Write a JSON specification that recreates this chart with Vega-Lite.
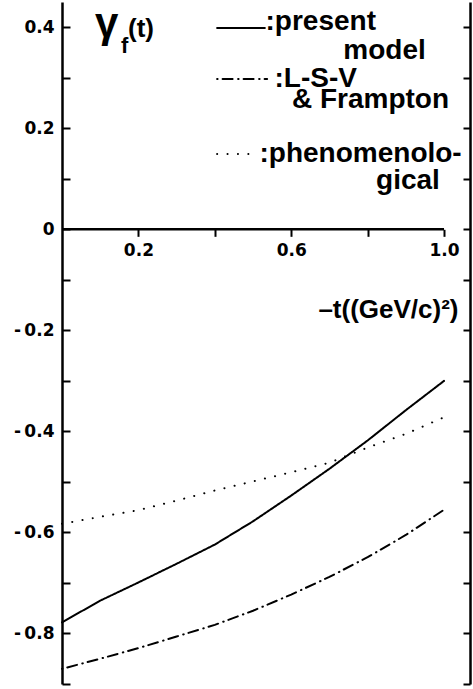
{
  "$schema": "https://vega.github.io/schema/vega-lite/v6.json",
  "width": 408,
  "height": 682,
  "autosize": {"type": "none"},
  "padding": {"left": 62, "top": 2, "right": 3, "bottom": 5},
  "background": "white",
  "config": {"view": {"stroke": null}, "font": "DejaVu Sans"},
  "datasets": {
    "curves": [
      {"series": "present model", "t": 0.0, "g": -0.778},
      {"series": "present model", "t": 0.1, "g": -0.735},
      {"series": "present model", "t": 0.2, "g": -0.699},
      {"series": "present model", "t": 0.3, "g": -0.662},
      {"series": "present model", "t": 0.4, "g": -0.624},
      {"series": "present model", "t": 0.5, "g": -0.578},
      {"series": "present model", "t": 0.6, "g": -0.527},
      {"series": "present model", "t": 0.7, "g": -0.474},
      {"series": "present model", "t": 0.8, "g": -0.418},
      {"series": "present model", "t": 0.9, "g": -0.358},
      {"series": "present model", "t": 1.0, "g": -0.300},
      {"series": "L-S-V & Frampton", "t": 0.0, "g": -0.870},
      {"series": "L-S-V & Frampton", "t": 0.1, "g": -0.850},
      {"series": "L-S-V & Frampton", "t": 0.2, "g": -0.829},
      {"series": "L-S-V & Frampton", "t": 0.3, "g": -0.806},
      {"series": "L-S-V & Frampton", "t": 0.4, "g": -0.783},
      {"series": "L-S-V & Frampton", "t": 0.5, "g": -0.755},
      {"series": "L-S-V & Frampton", "t": 0.6, "g": -0.723},
      {"series": "L-S-V & Frampton", "t": 0.7, "g": -0.688},
      {"series": "L-S-V & Frampton", "t": 0.8, "g": -0.649},
      {"series": "L-S-V & Frampton", "t": 0.9, "g": -0.605},
      {"series": "L-S-V & Frampton", "t": 1.0, "g": -0.555},
      {"series": "phenomenological", "t": 0.0, "g": -0.583},
      {"series": "phenomenological", "t": 0.1, "g": -0.569},
      {"series": "phenomenological", "t": 0.2, "g": -0.556},
      {"series": "phenomenological", "t": 0.3, "g": -0.537},
      {"series": "phenomenological", "t": 0.4, "g": -0.517},
      {"series": "phenomenological", "t": 0.5, "g": -0.499},
      {"series": "phenomenological", "t": 0.6, "g": -0.481},
      {"series": "phenomenological", "t": 0.7, "g": -0.462},
      {"series": "phenomenological", "t": 0.8, "g": -0.432},
      {"series": "phenomenological", "t": 0.9, "g": -0.405},
      {"series": "phenomenological", "t": 1.0, "g": -0.372}
    ],
    "keys": [
      {"series": "present model", "t0": 0.406, "t1": 0.531, "g": 0.3985},
      {"series": "L-S-V & Frampton", "t0": 0.406, "t1": 0.537, "g": 0.2976},
      {"series": "phenomenological", "t0": 0.406, "t1": 0.513, "g": 0.1491}
    ],
    "keytext": [
      {"label": ":present", "t": 0.5327, "g": 0.3946},
      {"label": "model", "t": 0.7364, "g": 0.3372},
      {"label": ":L-S-V", "t": 0.5563, "g": 0.2817},
      {"label": "& Frampton", "t": 0.602, "g": 0.2402},
      {"label": ":phenomenolo-", "t": 0.517, "g": 0.1333},
      {"label": "gical", "t": 0.822, "g": 0.0798}
    ]
  },
  "layer": [
    {
      "data": {"name": "curves"},
      "mark": {"type": "line", "color": "black", "strokeCap": "round", "strokeJoin": "round"},
      "encoding": {
        "x": {
          "field": "t", "type": "quantitative",
          "scale": {"domain": [0, 1.068], "nice": false, "zero": false},
          "axis": {
            "orient": "bottom", "offset": -454.67,
            "values": [0.2, 0.4, 0.6, 0.8, 1.0],
            "domain": false, "grid": false,
            "tickColor": "black", "tickWidth": 2, "tickSize": 7,
            "labelPadding": 6, "labelFont": "DejaVu Sans", "labelFontWeight": "bold",
            "labelFontSize": 17, "labelColor": "black", "labelOverlap": false,
            "labelExpr": "round(datum.value*10) % 4 == 0 ? '' : format(datum.value, '.1f')",
            "title": "–t((GeV/c)²)",
            "titleFont": "Liberation Sans", "titleFontWeight": "bold", "titleFontSize": 26,
            "titleColor": "black", "titleAlign": "right", "titleBaseline": "alphabetic",
            "titleX": 396, "titleY": 87.7
          }
        },
        "y": {
          "field": "g", "type": "quantitative",
          "scale": {"domain": [-0.9, 0.45], "nice": false, "zero": false},
          "axis": {
            "orient": "left",
            "values": [-0.9, -0.8, -0.7, -0.6, -0.5, -0.4, -0.3, -0.2, -0.1, 0, 0.1, 0.2, 0.3, 0.4],
            "title": null, "grid": false,
            "domainColor": "black", "domainWidth": 2.5,
            "tickColor": "black", "tickWidth": 2, "tickSize": -8,
            "labelPadding": 16, "labelFont": "DejaVu Sans", "labelFontWeight": "bold",
            "labelFontSize": 17, "labelColor": "black", "labelOverlap": false,
            "labelExpr": "round(datum.value*10) % 2 != 0 ? '' : (datum.value == 0 ? '0' : (datum.value < 0 ? '-\u2009' + format(-datum.value, '.1f') : format(datum.value, '.1f')))"
          }
        },
        "strokeDash": {
          "field": "series", "type": "nominal",
          "scale": {"domain": ["present model", "L-S-V & Frampton", "phenomenological"], "range": [[1, 0], [0.5, 5, 10, 5.5], [0.1, 10.3]]},
          "legend": null
        },
        "strokeWidth": {
          "field": "series", "type": "ordinal",
          "scale": {"domain": ["present model", "L-S-V & Frampton", "phenomenological"], "range": [2, 2, 4]},
          "legend": null
        }
      }
    },
    {
      "data": {"values": [{"t": 0, "t_end": 1, "g": 0}]},
      "mark": {"type": "rule", "color": "black", "strokeWidth": 2.5},
      "encoding": {
        "x": {"field": "t", "type": "quantitative", "scale": {"domain": [0, 1.068], "nice": false, "zero": false}, "axis": null},
        "x2": {"field": "t_end"},
        "y": {
          "field": "g", "type": "quantitative",
          "scale": {"domain": [-0.9, 0.45], "nice": false, "zero": false},
          "axis": {
            "orient": "right",
            "values": [-0.9, -0.8, -0.7, -0.6, -0.5, -0.4, -0.3, -0.2, -0.1, 0, 0.1, 0.2, 0.3, 0.4],
            "title": null, "grid": false, "labels": false,
            "domainColor": "black", "domainWidth": 2.5,
            "tickColor": "black", "tickWidth": 2, "tickSize": -7
          }
        }
      }
    },
    {
      "data": {"name": "keys"},
      "mark": {"type": "rule", "color": "black", "strokeCap": "round"},
      "encoding": {
        "x": {"field": "t0", "type": "quantitative", "scale": {"domain": [0, 1.068], "nice": false, "zero": false}, "axis": null},
        "x2": {"field": "t1"},
        "y": {"field": "g", "type": "quantitative", "scale": {"domain": [-0.9, 0.45], "nice": false, "zero": false}, "axis": null},
        "strokeDash": {
          "field": "series", "type": "nominal",
          "scale": {"domain": ["present model", "L-S-V & Frampton", "phenomenological"], "range": [[1, 0], [0.5, 5, 10, 5.5], [0.1, 10.3]]},
          "legend": null
        },
        "strokeWidth": {
          "field": "series", "type": "ordinal",
          "scale": {"domain": ["present model", "L-S-V & Frampton", "phenomenological"], "range": [2, 2, 4]},
          "legend": null
        }
      }
    },
    {
      "data": {"name": "keytext"},
      "mark": {"type": "text", "font": "Liberation Sans", "fontWeight": "bold", "fontSize": 28, "align": "left", "baseline": "alphabetic", "color": "black"},
      "encoding": {
        "x": {"field": "t", "type": "quantitative", "scale": {"domain": [0, 1.068], "nice": false, "zero": false}, "axis": null},
        "y": {"field": "g", "type": "quantitative", "scale": {"domain": [-0.9, 0.45], "nice": false, "zero": false}, "axis": null},
        "text": {"field": "label"}
      }
    },
    {
      "data": {"values": [{"label": "γ", "t": 0.0864, "g": 0.3817}]},
      "mark": {"type": "text", "font": "Liberation Sans", "fontWeight": "bold", "fontSize": 42, "align": "left", "baseline": "alphabetic", "color": "black"},
      "encoding": {
        "x": {"field": "t", "type": "quantitative", "scale": {"domain": [0, 1.068], "nice": false, "zero": false}, "axis": null},
        "y": {"field": "g", "type": "quantitative", "scale": {"domain": [-0.9, 0.45], "nice": false, "zero": false}, "axis": null},
        "text": {"field": "label"}
      }
    },
    {
      "data": {"values": [{"label": "f", "t": 0.1544, "g": 0.349}]},
      "mark": {"type": "text", "font": "Liberation Sans", "fontWeight": "bold", "fontSize": 22, "align": "left", "baseline": "alphabetic", "color": "black"},
      "encoding": {
        "x": {"field": "t", "type": "quantitative", "scale": {"domain": [0, 1.068], "nice": false, "zero": false}, "axis": null},
        "y": {"field": "g", "type": "quantitative", "scale": {"domain": [-0.9, 0.45], "nice": false, "zero": false}, "axis": null},
        "text": {"field": "label"}
      }
    },
    {
      "data": {"values": [{"label": "(t)", "t": 0.1728, "g": 0.3807}]},
      "mark": {"type": "text", "font": "Liberation Sans", "fontWeight": "bold", "fontSize": 26, "align": "left", "baseline": "alphabetic", "color": "black"},
      "encoding": {
        "x": {"field": "t", "type": "quantitative", "scale": {"domain": [0, 1.068], "nice": false, "zero": false}, "axis": null},
        "y": {"field": "g", "type": "quantitative", "scale": {"domain": [-0.9, 0.45], "nice": false, "zero": false}, "axis": null},
        "text": {"field": "label"}
      }
    }
  ],
  "resolve": {"axis": {"x": "independent", "y": "independent"}}
}
